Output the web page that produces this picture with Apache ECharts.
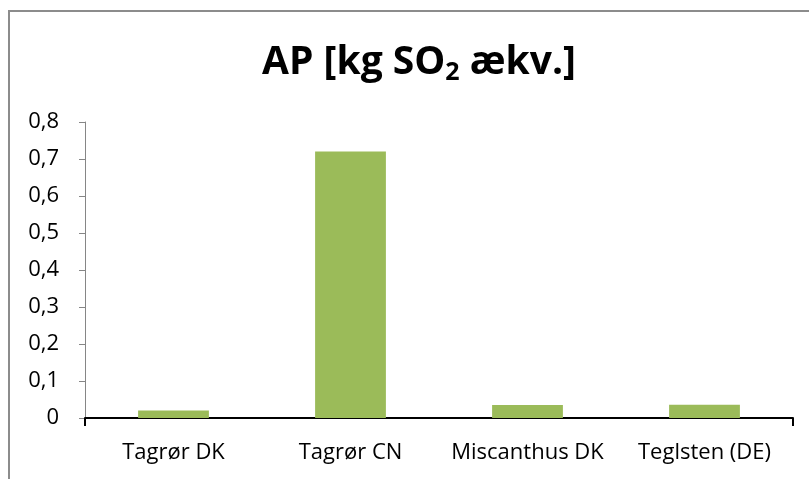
<!DOCTYPE html>
<html>
<head>
<meta charset="UTF-8">
<title>AP</title>
<script src="https://cdn.jsdelivr.net/npm/echarts@6/dist/echarts.min.js"></script>
<style>
  html, body { margin: 0; padding: 0; background: #fff; }
  #chart { width: 809px; height: 479px; }
</style>
</head>
<body>
<div id="chart"></div>
<script type="text/javascript">
// data
var categories = ['Tagrør DK', 'Tagrør CN', 'Miscanthus DK', 'Teglsten (DE)'];
var apValues = [0.02, 0.72, 0.035, 0.036];
var yTicks = [0, 0.1, 0.2, 0.3, 0.4, 0.5, 0.6, 0.7, 0.8];

var font = 'Open Sans';
var myChart = echarts.init(document.getElementById('chart'));

var option = {
  backgroundColor: '#fff',
  animation: false,
  title: {
    text: '{a|AP [kg SO}{b|2}{a| ækv.]}',
    left: 414,
    textAlign: 'center',
    top: 33,
    textStyle: {
      rich: {
        a: { fontFamily: font, fontWeight: 'bold', fontSize: 39, color: '#000', lineHeight: 50 },
        b: { fontFamily: font, fontWeight: 'bold', fontSize: 25, color: '#000', lineHeight: 50, padding: [20, 0, 0, 0] }
      }
    }
  },
  graphic: [{
    type: 'rect',
    shape: { x: 9, y: 11, width: 900, height: 600 },
    style: { fill: 'none', stroke: '#8c8c8c', lineWidth: 2 },
    silent: true
  }],
  grid: { left: 85, right: 16, top: 122, bottom: 61, containLabel: false },
  xAxis: {
    type: 'category',
    data: categories,
    axisLine: { lineStyle: { color: '#000', width: 2 } },
    // only the tick at the origin shows, like the source
    axisTick: { show: true, length: 8, interval: function (i) { return i === 0; }, lineStyle: { color: '#000', width: 2 } },
    axisLabel: { interval: 0, hideOverlap: false, fontFamily: font, fontSize: 22, color: '#000', margin: 24 }
  },
  yAxis: {
    type: 'value',
    min: yTicks[0],
    max: yTicks[yTicks.length - 1],
    interval: 0.1,
    axisLine: { show: true, lineStyle: { color: '#868686', width: 1 } },
    axisTick: { show: true, length: 6, lineStyle: { color: '#868686' } },
    splitLine: { show: false },
    axisLabel: {
      fontFamily: font, fontSize: 22, color: '#000', margin: 26,
      formatter: function (v) { return String(Math.round(v * 10) / 10).replace('.', ','); }
    }
  },
  series: [{
    name: 'AP',
    type: 'bar',
    data: apValues,
    barWidth: '40%',
    itemStyle: { color: '#9bbb59' }
  }]
};
myChart.setOption(option);
</script>
</body>
</html>
